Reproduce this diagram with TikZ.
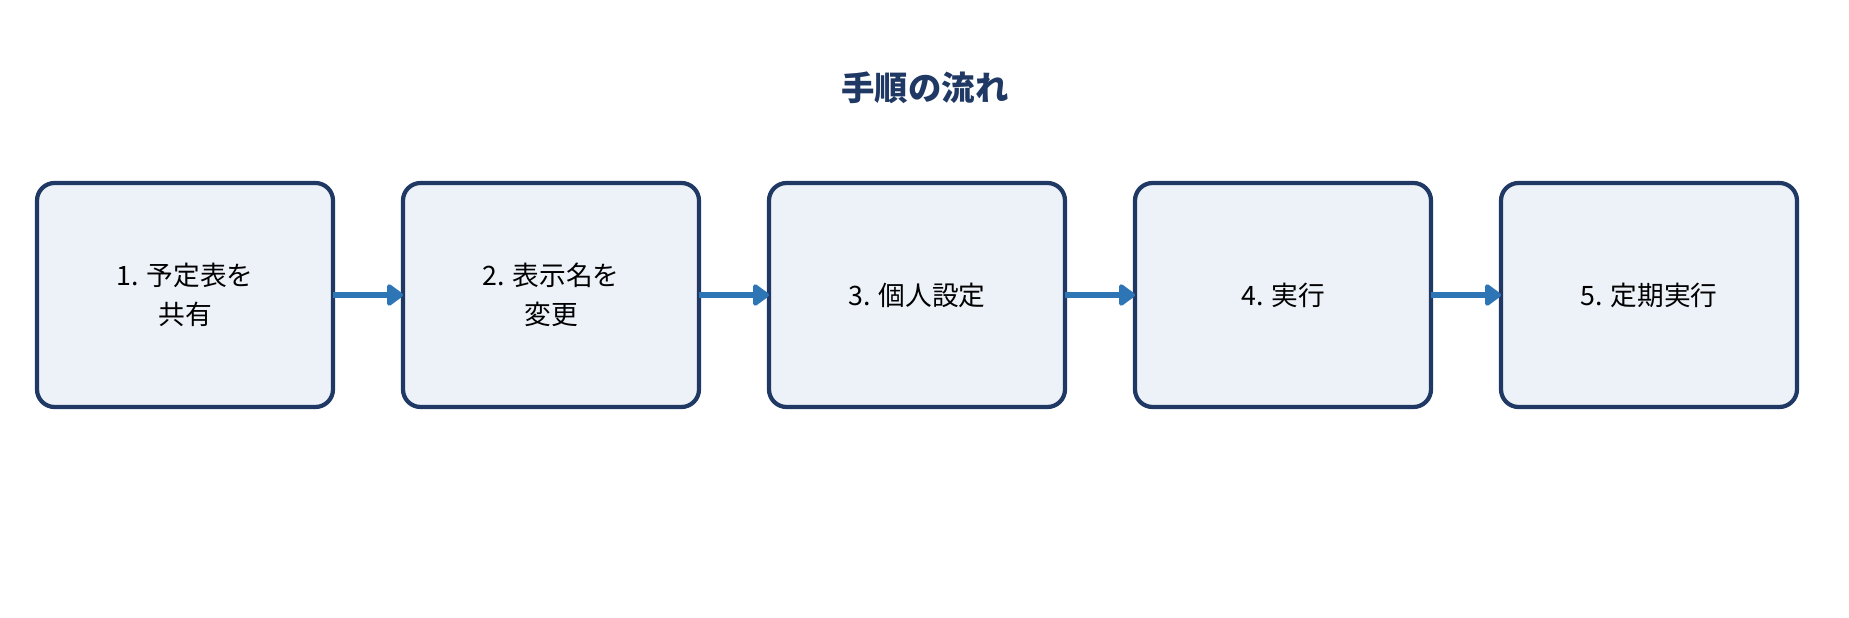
\documentclass[tikz,border=0pt]{standalone}
\usepackage{fontspec}
\setmainfont{Noto Sans CJK JP}
\usetikzlibrary{positioning,arrows.meta}
\definecolor{navy}{HTML}{1F3864}
\definecolor{boxfill}{HTML}{EDF2F9}
\definecolor{flow}{HTML}{2E75B6}
\tikzset{
  paso/.style={draw=navy,fill=boxfill,line width=1.2pt,rounded corners=5pt,outer sep=0pt,
    minimum width=2.96cm,minimum height=2.24cm,align=center,font=\fontsize{7.6}{11}\selectfont},
  go/.style={draw=flow,line width=1.5pt,-{Triangle[length=5pt,width=7pt,round]}}
}
\begin{document}
\begin{tikzpicture}
  \useasboundingbox (0,0) rectangle (18.49,-6.18);
  % titulo
  \node[font=\fontsize{9.5}{11}\selectfont\bfseries,text=navy] (title) at (9.25,-0.88) {手順の流れ};
  % pasos
  \node[paso] (s1) at (1.85,-2.95) {1. 予定表を\\共有};
  \node[paso,right=0.7cm of s1] (s2) {2. 表示名を\\変更};
  \node[paso,right=0.7cm of s2] (s3) {3. 個人設定};
  \node[paso,right=0.7cm of s3] (s4) {4. 実行};
  \node[paso,right=0.7cm of s4] (s5) {5. 定期実行};
  % flechas
  \foreach \a/\b in {s1/s2,s2/s3,s3/s4,s4/s5}
    \draw[go] (\a) -- (\b);
\end{tikzpicture}
\end{document}
